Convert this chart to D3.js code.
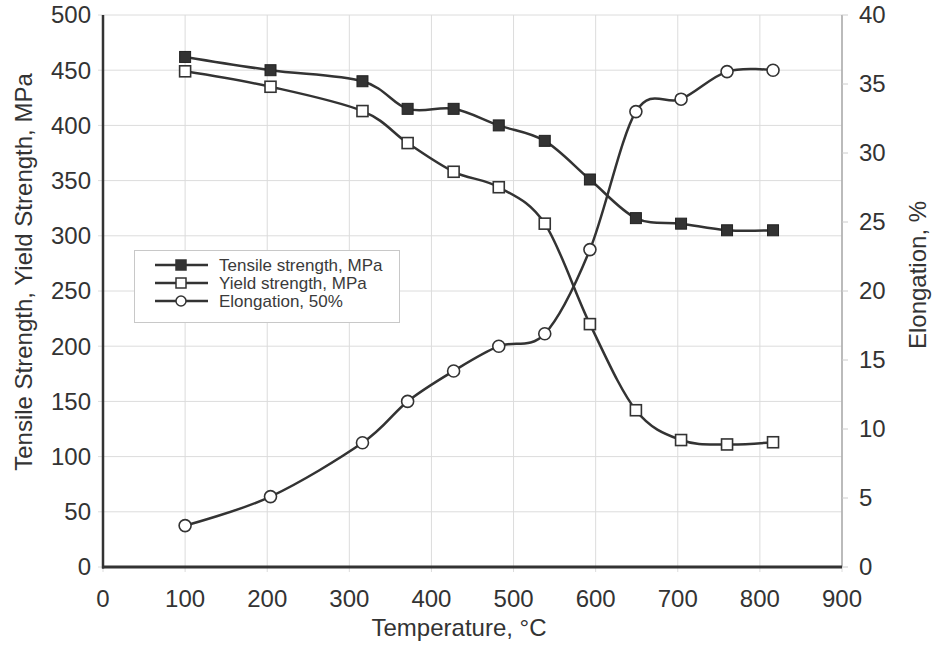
<!DOCTYPE html>
<html>
<head>
<meta charset="utf-8">
<script src="https://cdn.jsdelivr.net/npm/d3@7"></script>
<style>
  html, body { margin: 0; padding: 0; background: #fff; }
  svg { display: block; font-family: "Liberation Sans", Arial, sans-serif; }
</style>
</head>
<body>
<svg id="chart" width="933" height="648"></svg>
<script>
// Test temperatures, °C
const temperatures = [100, 204, 316, 371, 427, 482, 538, 593, 649, 704, 760, 816];
// Strength values, MPa
const tensileStrength = [462, 450, 440, 415, 415, 400, 386, 351, 316, 311, 305, 305];
const yieldStrength   = [449, 435, 413, 384, 358, 344, 311, 220, 142, 115, 111, 113];
// Elongation, %
const elongation      = [3.0, 5.1, 9.0, 12.0, 14.2, 16.0, 16.9, 23.0, 33.0, 33.9, 35.9, 36.0];

const xTicks = [0, 100, 200, 300, 400, 500, 600, 700, 800, 900];
const leftTicks = [0, 50, 100, 150, 200, 250, 300, 350, 400, 450, 500];
const rightTicks = [0, 5, 10, 15, 20, 25, 30, 35, 40];

const seriesNames = ["Tensile strength, MPa", "Yield strength, MPa", "Elongation, 50%"];

const svg = d3.select("#chart");
const ink = "#333";
const grid = "#dcdcdc";

const x = d3.scaleLinear().domain([0, 900]).range([103, 842]);
const yL = d3.scaleLinear().domain([0, 500]).range([567, 15]);
const yR = d3.scaleLinear().domain([0, 40]).range([567, 15]);

// grid
const g = svg.append("g");
g.selectAll(".hg").data(leftTicks).join("line")
  .attr("x1", x(0) - 5).attr("x2", x(900))
  .attr("y1", d => yL(d)).attr("y2", d => yL(d))
  .attr("stroke", grid).attr("stroke-width", 1);
g.selectAll(".vg").data(xTicks).join("line")
  .attr("x1", d => x(d)).attr("x2", d => x(d))
  .attr("y1", yL(500)).attr("y2", yL(0) + 5)
  .attr("stroke", grid).attr("stroke-width", 1);

// right axis (light)
svg.append("line").attr("x1", x(900)).attr("x2", x(900))
  .attr("y1", yR(40)).attr("y2", yR(0))
  .attr("stroke", "#aaa").attr("stroke-width", 1.5);
svg.selectAll(".rt").data(rightTicks).join("line")
  .attr("x1", x(900)).attr("x2", x(900) + 6)
  .attr("y1", d => yR(d)).attr("y2", d => yR(d))
  .attr("stroke", "#ccc").attr("stroke-width", 1);

// left and bottom axes (dark)
svg.append("line").attr("x1", x(0)).attr("x2", x(0))
  .attr("y1", yL(500)).attr("y2", yL(0) + 1.5)
  .attr("stroke", ink).attr("stroke-width", 2.5);
svg.append("line").attr("x1", x(0) - 1).attr("x2", x(900))
  .attr("y1", yL(0)).attr("y2", yL(0))
  .attr("stroke", ink).attr("stroke-width", 3);

// tick labels
const tickFont = 24;
svg.selectAll(".xl").data(xTicks).join("text")
  .attr("x", d => x(d)).attr("y", 607)
  .attr("text-anchor", "middle").attr("font-size", tickFont).attr("fill", ink)
  .text(d => d);
svg.selectAll(".ll").data(leftTicks).join("text")
  .attr("x", 91).attr("y", d => yL(d)).attr("dy", "0.35em")
  .attr("text-anchor", "end").attr("font-size", tickFont).attr("fill", ink)
  .text(d => d);
svg.selectAll(".rl").data(rightTicks).join("text")
  .attr("x", 859).attr("y", d => yR(d)).attr("dy", "0.35em")
  .attr("text-anchor", "start").attr("font-size", tickFont).attr("fill", ink)
  .text(d => d);

// axis titles
svg.append("text").attr("x", 459).attr("y", 636)
  .attr("text-anchor", "middle").attr("font-size", 24).attr("fill", ink)
  .text("Temperature, °C");
svg.append("text").attr("transform", "translate(32,272) rotate(-90)")
  .attr("text-anchor", "middle").attr("font-size", 24).attr("fill", ink)
  .text("Tensile Strength, Yield Strength, MPa");
svg.append("text").attr("transform", "translate(926,275) rotate(-90)")
  .attr("text-anchor", "middle").attr("font-size", 24).attr("fill", ink)
  .text("Elongation, %");

// series
const curve = d3.curveCardinal.tension(0);
const tensileData = temperatures.map((t, i) => [t, tensileStrength[i]]);
const yieldData = temperatures.map((t, i) => [t, yieldStrength[i]]);
const elongData = temperatures.map((t, i) => [t, elongation[i]]);

const lineL = d3.line().x(d => x(d[0])).y(d => yL(d[1])).curve(curve);
const lineR = d3.line().x(d => x(d[0])).y(d => yR(d[1])).curve(curve);

[[tensileData, lineL], [yieldData, lineL], [elongData, lineR]].forEach(([data, gen]) => {
  svg.append("path").attr("d", gen(data))
    .attr("fill", "none").attr("stroke", ink).attr("stroke-width", 2.5);
});

const sq = 11;
svg.selectAll(".tm").data(tensileData).join("rect")
  .attr("x", d => x(d[0]) - sq / 2).attr("y", d => yL(d[1]) - sq / 2)
  .attr("width", sq).attr("height", sq)
  .attr("fill", ink).attr("stroke", "#222").attr("stroke-width", 1);
svg.selectAll(".ym").data(yieldData).join("rect")
  .attr("x", d => x(d[0]) - sq / 2).attr("y", d => yL(d[1]) - sq / 2)
  .attr("width", sq).attr("height", sq)
  .attr("fill", "#fff").attr("stroke", ink).attr("stroke-width", 1.6);
svg.selectAll(".em").data(elongData).join("circle")
  .attr("cx", d => x(d[0])).attr("cy", d => yR(d[1])).attr("r", 6)
  .attr("fill", "#fff").attr("stroke", ink).attr("stroke-width", 1.6);

// legend
const lg = svg.append("g");
lg.append("rect").attr("x", 134.5).attr("y", 250.5).attr("width", 265).attr("height", 72)
  .attr("fill", "#fff").attr("stroke", "#c8c8c8").attr("stroke-width", 1);
const rowY = [265, 283, 301];
seriesNames.forEach((name, i) => {
  const y = rowY[i];
  lg.append("line").attr("x1", 155).attr("x2", 208).attr("y1", y).attr("y2", y)
    .attr("stroke", ink).attr("stroke-width", 2.5);
  if (i === 2) {
    lg.append("circle").attr("cx", 181).attr("cy", y).attr("r", 5)
      .attr("fill", "#fff").attr("stroke", ink).attr("stroke-width", 1.5);
  } else {
    lg.append("rect").attr("x", 176).attr("y", y - 5).attr("width", 10).attr("height", 10)
      .attr("fill", i === 0 ? ink : "#fff").attr("stroke", ink).attr("stroke-width", 1.5);
  }
  lg.append("text").attr("x", 219).attr("y", y).attr("dy", "0.35em")
    .attr("font-size", 17).attr("fill", "#3a3a3a").text(name);
});
</script>
</body>
</html>
